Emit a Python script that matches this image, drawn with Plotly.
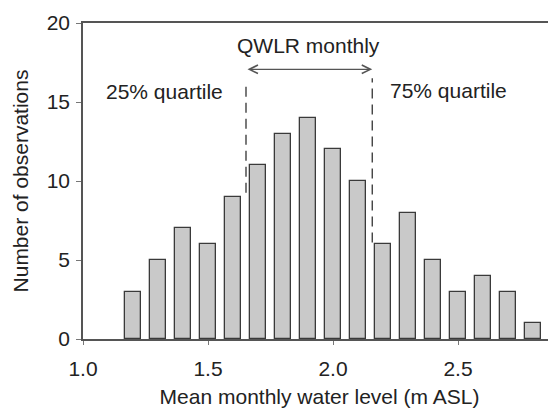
import plotly.graph_objects as go

# Data
levels = [1.2, 1.3, 1.4, 1.5, 1.6, 1.7, 1.8, 1.9, 2.0, 2.1, 2.2, 2.3, 2.4, 2.5, 2.6, 2.7, 2.8]
counts = [3, 5, 7, 6, 9, 11, 13, 14, 12, 10, 6, 8, 5, 3, 4, 3, 1]
q25 = 1.652
q75 = 2.157
x_ticks = [1.0, 1.5, 2.0, 2.5]
x_tick_labels = ["1.0", "1.5", "2.0", "2.5"]
y_ticks = [0, 5, 10, 15, 20]

FONT = "Liberation Sans, Arial, sans-serif"
TXT = "#222222"
FS = 21

fig = go.Figure()
fig.add_trace(go.Bar(
    x=levels, y=counts, width=0.064,
    marker=dict(color="#c9c9c9", line=dict(color="#3a3a3a", width=1.3)),
    showlegend=False,
))

# dashed quartile lines
fig.add_shape(type="line", xref="x", yref="y", x0=q25, x1=q25, y0=9.25, y1=16.2,
              line=dict(color="#333333", width=1.3, dash="10px,6px"))
fig.add_shape(type="line", xref="x", yref="y", x0=q75, x1=q75, y0=6.1, y1=16.5,
              line=dict(color="#333333", width=1.3, dash="10px,6px"))

# double arrow
fig.add_annotation(x=q75, y=17.07, ax=q25, ay=17.07, xref="x", yref="y", axref="x", ayref="y",
                   text="", showarrow=True, arrowside="end+start", arrowhead=5,
                   arrowsize=1.3, arrowwidth=1.3, arrowcolor="#555555")

fig.add_annotation(x=1.9, y=18.6, xref="x", yref="y", text="QWLR monthly", showarrow=False,
                   font=dict(family=FONT, size=FS, color=TXT))
fig.add_annotation(x=1.566, y=15.65, xref="x", yref="y", text="25% quartile", showarrow=False,
                   xanchor="right", font=dict(family=FONT, size=FS, color=TXT))
fig.add_annotation(x=2.218, y=15.7, xref="x", yref="y", text="75% quartile", showarrow=False,
                   xanchor="left", font=dict(family=FONT, size=FS, color=TXT))

fig.update_layout(
    width=548, height=402,
    margin=dict(l=75, r=0, t=15, b=71),
    paper_bgcolor="white", plot_bgcolor="white",
    font=dict(family=FONT, size=FS, color=TXT),
    bargap=0,
    xaxis=dict(
        range=[1.0, 2.892], tickvals=x_ticks, ticktext=x_tick_labels,
        showline=True, linecolor="#555555", linewidth=1.5, mirror=True,
        ticks="outside", ticklen=4, tickcolor="#777777", tickwidth=1,
        ticklabelstandoff=6,
        showgrid=False, zeroline=False, automargin=False,
        title=dict(text="Mean monthly water level (m ASL)", standoff=10,
                   font=dict(family=FONT, size=FS, color=TXT)),
        tickfont=dict(family=FONT, size=FS, color=TXT),
    ),
    yaxis=dict(
        range=[0, 20], tickvals=y_ticks,
        showline=True, linecolor="#555555", linewidth=1.5,
        ticks="outside", ticklen=5, tickcolor="#777777", tickwidth=1,
        ticklabelstandoff=2,
        showgrid=False, zeroline=False, automargin=False,
        title=dict(text="Number of observations", standoff=12,
                   font=dict(family=FONT, size=FS, color=TXT)),
        tickfont=dict(family=FONT, size=FS, color=TXT),
    ),
)

fig.write_html("out.html")
